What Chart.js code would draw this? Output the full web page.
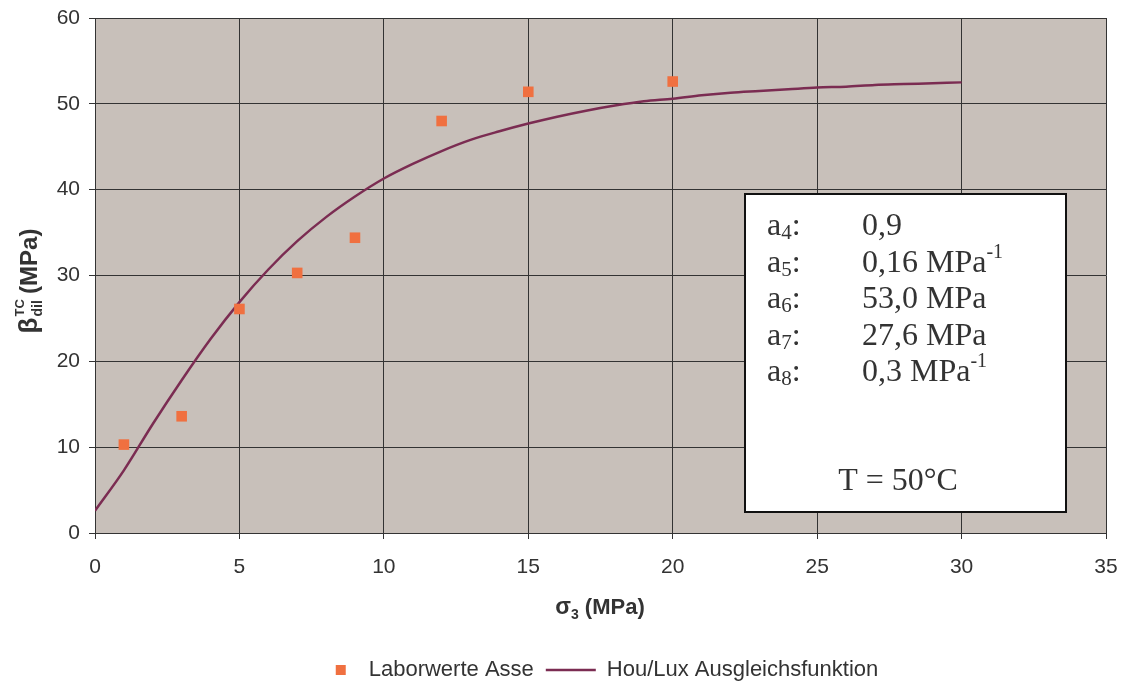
<!DOCTYPE html>
<html>
<head>
<meta charset="utf-8">
<script src="https://cdn.jsdelivr.net/npm/chart.js@4.4.1/dist/chart.umd.min.js"></script>
<style>
    body { margin: 0; background: #fff; }
    #wrap { width: 1126px; height: 684px; position: relative; }
</style>
</head>
<body>
<div id="wrap"><canvas id="chart" width="1126" height="684"></canvas></div>
<script>
// Laborwerte Asse (measured points)
const labX = [1, 3, 5, 7, 9, 12, 15, 20];
const labY = [10.3, 13.6, 26.1, 30.3, 34.4, 48.0, 51.4, 52.6];

// Hou/Lux Ausgleichsfunktion (fit curve)
const curveX = [0, 1, 2, 3, 4, 5, 6, 7, 8, 9, 10, 11, 12, 13, 14, 15, 16, 17, 18, 19, 20, 21, 22, 23, 24, 25, 26, 27, 28, 29, 30];
const curveY = [2.6, 7.3, 12.7, 17.8, 22.6, 26.9, 30.7, 34.0, 36.8, 39.2, 41.3, 43.0, 44.5, 45.8, 46.8, 47.7, 48.5, 49.2, 49.8, 50.3, 50.6, 51.0, 51.3, 51.5, 51.7, 51.9, 52.0, 52.2, 52.3, 52.4, 52.5];

const xTicks = [0, 5, 10, 15, 20, 25, 30, 35];
const yTicks = [0, 10, 20, 30, 40, 50, 60];

// parameter box lines
const paramNames = ["4", "5", "6", "7", "8"];
const paramValues = ["0,9", "0,16 MPa", "53,0 MPa", "27,6 MPa", "0,3 MPa"];
const paramSup = ["", "-1", "", "", "-1"];
const tempLabel = "T = 50°C";

const sans = "'Liberation Sans', Arial, sans-serif";
const serif = "'Liberation Serif', 'Times New Roman', serif";

// draws a sequence of [text, font, baselineOffset] pieces
function drawPieces(ctx, pieces, x, y) {
    pieces.forEach(p => {
        ctx.font = p[1];
        ctx.fillText(p[0], x, y + p[2]);
        x += ctx.measureText(p[0]).width;
    });
    return x;
}
function piecesWidth(ctx, pieces) {
    let w = 0;
    pieces.forEach(p => { ctx.font = p[1]; w += ctx.measureText(p[0]).width; });
    return w;
}

// small square for the scatter legend entry, inside a 50px wide box
const squareIcon = document.createElement("canvas");
squareIcon.width = 50;
squareIcon.height = 12;
(function () {
    const c = squareIcon.getContext("2d");
    c.fillStyle = "#f07040";
    c.fillRect(28, 1, 10, 10);
})();

const extras = {
    id: "extras",
    afterLayout(chart) {
        // legend in the reference sits right of centre and a bit lower
        chart.legend.left += 40;
        chart.legend.right += 40;
        chart.legend.top += 7;
        chart.legend.bottom += 7;
    },
    beforeDraw(chart) {
        const { ctx, chartArea } = chart;
        ctx.save();
        ctx.fillStyle = "#c8c0ba";
        ctx.fillRect(chartArea.left, chartArea.top, chartArea.right - chartArea.left, chartArea.bottom - chartArea.top);
        ctx.restore();
    },
    afterDraw(chart) {
        const { ctx } = chart;
        ctx.save();
        ctx.fillStyle = "#333";
        ctx.textBaseline = "alphabetic";

        // x axis title
        const xt = [["σ", "bold 23px " + sans, 0], ["3", "bold 14px " + sans, 5], [" (MPa)", "bold 22px " + sans, 0]];
        const xw = piecesWidth(ctx, xt);
        drawPieces(ctx, xt, 600 - xw / 2, 614);

        // y axis title (rotated)
        ctx.save();
        ctx.font = "bold 14px " + sans;
        const supW = Math.max(ctx.measureText("TC").width, ctx.measureText("dil").width);
        const yw = piecesWidth(ctx, [["β", "bold 26px " + sans, 0], ["(MPa)", "bold 24px " + sans, 0]]) + supW + 5;
        ctx.translate(37, 281 + yw / 2);
        ctx.rotate(-Math.PI / 2);
        let px = drawPieces(ctx, [["β", "bold 26px " + sans, 0]], 0, 0);
        ctx.font = "bold 13px " + sans;
        ctx.fillText("TC", px + 1, -13);
        ctx.font = "bold 14px " + sans;
        ctx.fillText("dil", px + 1, 5);
        px += supW + 5;
        drawPieces(ctx, [["(MPa)", "bold 24px " + sans, 0]], px, 0);
        ctx.restore();

        // parameter box
        const bx = 745, by = 194, bw = 321, bh = 318;
        ctx.fillStyle = "#fff";
        ctx.fillRect(bx, by, bw, bh);
        ctx.strokeStyle = "#111";
        ctx.lineWidth = 2;
        ctx.strokeRect(bx, by, bw, bh);

        ctx.fillStyle = "#333";
        paramNames.forEach((n, i) => {
            const y = 235 + i * 36.5;
            drawPieces(ctx, [["a", "32px " + serif, 0], [n, "21px " + serif, 4], [":", "32px " + serif, 0]], 767, y);
            const vx = drawPieces(ctx, [[paramValues[i], "32px " + serif, 0]], 862, y);
            if (paramSup[i]) drawPieces(ctx, [[paramSup[i], "20px " + serif, -14]], vx, y);
        });
        ctx.font = "32px " + serif;
        ctx.textAlign = "center";
        ctx.fillText(tempLabel, 898, 490);
        ctx.restore();
    }
};

new Chart(document.getElementById("chart"), {
    type: "scatter",
    data: {
        datasets: [
            {
                label: "Laborwerte Asse",
                data: labX.map((x, i) => ({ x: x, y: labY[i] })),
                backgroundColor: "#f07040",
                borderColor: "#f07040",
                pointStyle: "rect",
                pointRadius: 7.5,
                pointHoverRadius: 7.5,
                borderWidth: 0
            },
            {
                label: "Hou/Lux Ausgleichsfunktion",
                data: curveX.map((x, i) => ({ x: x, y: curveY[i] })),
                showLine: true,
                borderColor: "#7b2c52",
                backgroundColor: "#7b2c52",
                borderWidth: 2.5,
                pointRadius: 0,
                pointStyle: "line",
                cubicInterpolationMode: "monotone"
            }
        ]
    },
    options: {
        responsive: false,
        animation: false,
        layout: { padding: { left: 0, right: 20, top: 18, bottom: 0 } },
        plugins: {
            tooltip: { enabled: false },
            legend: {
                position: "bottom",
                labels: {
                    usePointStyle: true,
                    pointStyleWidth: 50,
                    boxHeight: 10,
                    padding: 12,
                    color: "#333",
                    font: { family: sans, size: 22 },
                    generateLabels: chart => {
                        const items = Chart.defaults.plugins.legend.labels.generateLabels(chart);
                        items[0].pointStyle = squareIcon;
                        return items;
                    }
                }
            }
        },
        scales: {
            x: {
                type: "linear",
                min: 0,
                max: 35,
                afterBuildTicks: scale => { scale.ticks = xTicks.map(v => ({ value: v })); },
                afterFit: scale => {
                    scale.height = 107;
                    scale.paddingLeft = 0;
                    scale.paddingRight = 0;
                },
                grid: { color: "#333", lineWidth: 1, tickLength: 6, tickColor: "#333" },
                border: { color: "#333", width: 1 },
                ticks: { color: "#333", font: { family: sans, size: 21 }, padding: 16 }
            },
            y: {
                min: 0,
                max: 60,
                afterBuildTicks: scale => { scale.ticks = yTicks.map(v => ({ value: v })); },
                afterFit: scale => {
                    scale.width = 95;
                    scale.paddingTop = 0;
                    scale.paddingBottom = 0;
                },
                grid: { color: "#333", lineWidth: 1, tickLength: 6, tickColor: "#333" },
                border: { color: "#333", width: 1 },
                ticks: { color: "#333", font: { family: sans, size: 21 }, padding: 9 }
            }
        }
    },
    plugins: [extras]
});
</script>
</body>
</html>
